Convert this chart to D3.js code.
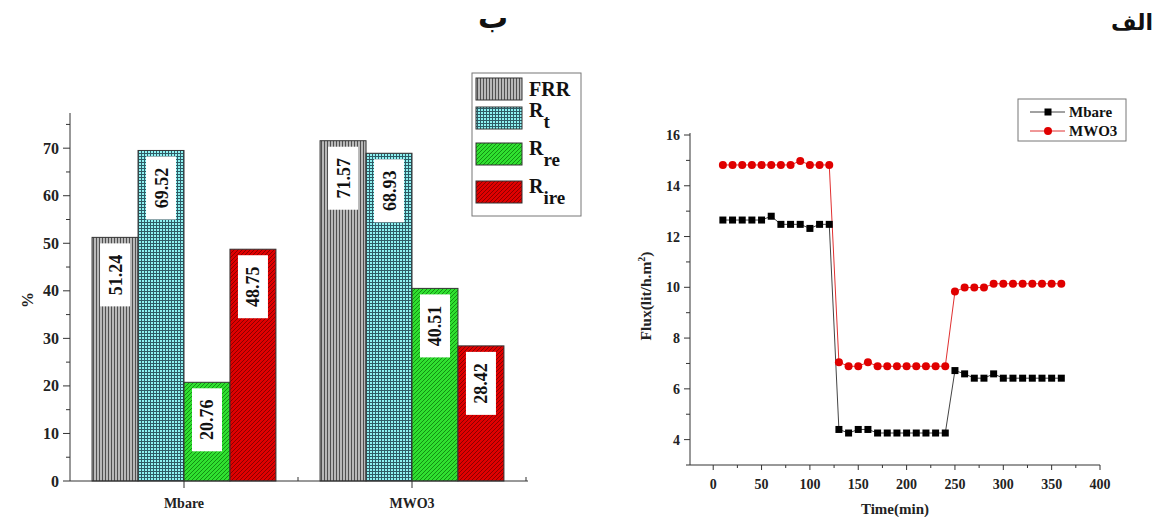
<!DOCTYPE html>
<html><head><meta charset="utf-8">
<script src="https://cdn.jsdelivr.net/npm/d3@7"></script>
<style>
body{margin:0;background:#fff;}
text{font-family:"Liberation Serif","Times New Roman",serif;font-weight:bold;}
</style></head>
<body>
<svg id="c" width="1156" height="517"></svg>
<script>
// ---------- Data: bar chart ----------
const groups = ["Mbare", "MWO3"];
const seriesNames = ["FRR", "Rt", "Rre", "Rire"];
const barMbare = [51.24, 69.52, 20.76, 48.75];
const barMWO3 = [71.57, 68.93, 40.51, 28.42];
const barTicks = [0, 10, 20, 30, 40, 50, 60, 70];

// ---------- Data: flux chart ----------
const timeMin = [10,20,30,40,50,60,70,80,90,100,110,120,130,140,150,160,170,180,190,200,210,220,230,240,250,260,270,280,290,300,310,320,330,340,350,360];
const fluxMbare = [12.65,12.65,12.65,12.65,12.65,12.8,12.48,12.48,12.48,12.32,12.48,12.48,
  4.4,4.26,4.4,4.4,4.26,4.26,4.26,4.26,4.26,4.26,4.26,4.26,
  6.72,6.59,6.42,6.42,6.59,6.42,6.42,6.42,6.42,6.42,6.42,6.42];
const fluxMWO3 = [14.82,14.82,14.82,14.82,14.82,14.82,14.82,14.82,14.98,14.82,14.82,14.82,
  7.05,6.89,6.89,7.05,6.89,6.89,6.89,6.89,6.89,6.89,6.89,6.89,
  9.83,9.99,9.99,9.99,10.14,10.14,10.14,10.14,10.14,10.14,10.14,10.14];
const fluxXTicks = [0,50,100,150,200,250,300,350,400];
const fluxYTicks = [4,6,8,10,12,14,16];

const svg = d3.select("#c");
const defs = svg.append("defs");

// patterns
function pat(id, fill, stroke, kind, size){
  const p = defs.append("pattern").attr("id", id).attr("patternUnits","userSpaceOnUse")
    .attr("width", size).attr("height", size);
  p.append("rect").attr("width", size).attr("height", size).attr("fill", fill);
  if (kind === "v") {
    p.append("line").attr("x1",0.5).attr("x2",0.5).attr("y1",0).attr("y2",size).attr("stroke",stroke).attr("stroke-width",1);
  } else if (kind === "grid") {
    p.append("line").attr("x1",0.5).attr("x2",0.5).attr("y1",0).attr("y2",size).attr("stroke",stroke).attr("stroke-width",1);
    p.append("line").attr("y1",0.5).attr("y2",0.5).attr("x1",0).attr("x2",size).attr("stroke",stroke).attr("stroke-width",1);
  } else {
    p.append("path").attr("d",`M0,${size} L${size},0 M${-size/2},${size/2} L${size/2},${-size/2} M${size/2},${size*1.5} L${size*1.5},${size/2}`).attr("stroke",stroke).attr("stroke-width",1);
  }
}
pat("pFRR", "#b8b8b8", "#505050", "v", 3);
pat("pRt", "#8ef2f2", "#2f5c66", "grid", 3);
pat("pRre", "#30e030", "#129012", "d", 4);
pat("pRire", "#e00000", "#8a0000", "d", 4);
const patIds = ["pFRR","pRt","pRre","pRire"];

// ---------- Bar chart ----------
const by = d3.scaleLinear().domain([0, 77.4]).range([481, 113]);
const bx0 = d3.scaleBand().domain(groups).range([70, 526]).padding(0);
const bx1 = d3.scaleBand().domain(seriesNames).range([0, bx0.bandwidth()]).paddingInner(0).paddingOuter(0.48);
const barData = [barMbare, barMWO3];

const gB = svg.append("g");
groups.forEach((g, gi) => {
  seriesNames.forEach((s, si) => {
    const v = barData[gi][si];
    const x = bx0(g) + bx1(s);
    const w = bx1.bandwidth();
    gB.append("rect").attr("x", x).attr("y", by(v)).attr("width", w).attr("height", by(0) - by(v))
      .attr("fill", `url(#${patIds[si]})`).attr("stroke", "#333").attr("stroke-width", 1);
    const cx = x + w / 2;
    const top = by(v) + 6;
    gB.append("rect").attr("x", cx - 15).attr("y", top).attr("width", 30).attr("height", 63).attr("fill", "#fff");
    gB.append("text").attr("transform", `translate(${cx + 6.5},${top + 31.5}) rotate(-90)`)
      .attr("text-anchor", "middle").attr("font-size", 18).attr("fill", "#111").text(v.toFixed(2));
  });
});

// axes
const yAxisB = svg.append("g").attr("transform", "translate(70,0)");
yAxisB.append("line").attr("x1",0).attr("x2",0).attr("y1",by(77.4)).attr("y2",by(0)).attr("stroke","#333");
d3.range(0, 76, 5).forEach(t => {
  const major = t % 10 === 0;
  yAxisB.append("line").attr("x1", major ? -7 : -4).attr("x2", 0).attr("y1", by(t)).attr("y2", by(t)).attr("stroke", "#333");
});
barTicks.forEach(t => {
  yAxisB.append("text").attr("x", -11).attr("y", by(t) + 5.5).attr("text-anchor", "end").attr("font-size", 16).attr("fill","#222").text(t);
});
svg.append("text").attr("transform", "translate(33,300) rotate(-90)").attr("text-anchor","middle").attr("font-size",16).attr("fill","#222").text("%");

const xAxisB = svg.append("g");
xAxisB.append("line").attr("x1", 70).attr("x2", 528).attr("y1", 481).attr("y2", 481).attr("stroke","#333");
groups.forEach(g => {
  const c = bx0(g) + bx0.bandwidth() / 2;
  xAxisB.append("line").attr("x1", c).attr("x2", c).attr("y1", 481).attr("y2", 488).attr("stroke","#333");
  xAxisB.append("text").attr("x", c).attr("y", 508).attr("text-anchor","middle").attr("font-size",14).attr("fill","#222").text(g);
});
[bx0.range()[0] + bx0.bandwidth(), bx0.range()[1]].forEach(b => {
  xAxisB.append("line").attr("x1", b).attr("x2", b).attr("y1", 481).attr("y2", 477).attr("stroke","#333");
});

// legend (bar)
const lg = svg.append("g");
lg.append("rect").attr("x", 472).attr("y", 73).attr("width", 109).attr("height", 143).attr("fill","#fff").attr("stroke","#777");
const legY = [78, 107, 143, 181];
const legBase = [96, 117, 155, 193];
const legMain = ["FRR", "R", "R", "R"];
const legSub = ["", "t", "re", "ire"];
seriesNames.forEach((s, i) => {
  lg.append("rect").attr("x", 476).attr("y", legY[i]).attr("width", 46).attr("height", 22)
    .attr("fill", `url(#${patIds[i]})`).attr("stroke","#333");
  const t = lg.append("text").attr("x", 529).attr("y", legBase[i]).attr("font-size", 20).attr("fill","#111");
  t.append("tspan").text(legMain[i]);
  if (legSub[i]) t.append("tspan").attr("dy", 11).attr("font-size", 19).text(legSub[i]);
});

// ---------- Flux chart ----------
const fx = d3.scaleLinear().domain([-24, 400]).range([690, 1100]);
const fy = d3.scaleLinear().domain([3, 16]).range([465, 135]);

const ax = svg.append("g");
ax.append("line").attr("x1", 690).attr("x2", 690).attr("y1", fy(16) - 2).attr("y2", fy(3)).attr("stroke","#333");
ax.append("line").attr("x1", 690).attr("x2", fx(400)).attr("y1", fy(3)).attr("y2", fy(3)).attr("stroke","#333");
d3.range(3, 16.01, 1).forEach(t => {
  const major = t % 2 === 0;
  ax.append("line").attr("x1", major ? 684 : 686).attr("x2", 690).attr("y1", fy(t)).attr("y2", fy(t)).attr("stroke","#333");
});
fluxYTicks.forEach(t => {
  ax.append("text").attr("x", 680).attr("y", fy(t) + 5).attr("text-anchor","end").attr("font-size",14).attr("fill","#222").text(t);
});
d3.range(0, 401, 25).forEach(t => {
  const major = t % 50 === 0;
  ax.append("line").attr("x1", fx(t)).attr("x2", fx(t)).attr("y1", fy(3)).attr("y2", fy(3) + (major ? 5 : 3)).attr("stroke","#333");
});
fluxXTicks.forEach(t => {
  ax.append("text").attr("x", fx(t)).attr("y", 489).attr("text-anchor","middle").attr("font-size",14).attr("fill","#222").text(t);
});
svg.append("text").attr("x", 895).attr("y", 514).attr("text-anchor","middle").attr("font-size",15).attr("fill","#222").text("Time(min)");
const yl = svg.append("text").attr("transform","translate(651,296) rotate(-90)").attr("text-anchor","middle").attr("font-size",15.5).attr("fill","#222");
yl.append("tspan").text("Flux(lit/h.m");
yl.append("tspan").attr("dy",-6).attr("font-size",10).text("2");
yl.append("tspan").attr("dy",6).text(")");

const line = d3.line().x((d, i) => fx(timeMin[i])).y(d => fy(d));
svg.append("path").attr("d", line(fluxMbare)).attr("fill","none").attr("stroke","#444").attr("stroke-width",1);
svg.append("path").attr("d", line(fluxMWO3)).attr("fill","none").attr("stroke","#e03030").attr("stroke-width",1);
svg.append("g").selectAll("rect").data(fluxMbare).join("rect")
  .attr("x", (d, i) => fx(timeMin[i]) - 3.5).attr("y", d => fy(d) - 3.5).attr("width", 7).attr("height", 7).attr("fill","#000");
svg.append("g").selectAll("circle").data(fluxMWO3).join("circle")
  .attr("cx", (d, i) => fx(timeMin[i])).attr("cy", d => fy(d)).attr("r", 4).attr("fill","#e00000");

// legend (flux)
const lf = svg.append("g");
lf.append("rect").attr("x", 1018).attr("y", 99).attr("width", 108).attr("height", 42).attr("fill","#fff").attr("stroke","#777");
lf.append("line").attr("x1",1030).attr("x2",1065).attr("y1",112).attr("y2",112).attr("stroke","#444");
lf.append("rect").attr("x",1044.5).attr("y",108.5).attr("width",7).attr("height",7).attr("fill","#000");
lf.append("text").attr("x",1069).attr("y",117).attr("font-size",15).attr("fill","#111").text("Mbare");
lf.append("line").attr("x1",1030).attr("x2",1065).attr("y1",131).attr("y2",131).attr("stroke","#e03030");
lf.append("circle").attr("cx",1048).attr("cy",131).attr("r",4).attr("fill","#e00000");
lf.append("text").attr("x",1069).attr("y",136).attr("font-size",15).attr("fill","#111").text("MWO3");

// panel labels
svg.append("text").attr("x", 493).attr("y", 28).attr("text-anchor","middle").attr("font-size",30).attr("fill","#111").style("font-family","'DejaVu Sans'").text("ب");
svg.append("text").attr("x", 1132).attr("y", 30).attr("text-anchor","middle").attr("font-size",22).attr("fill","#111").style("font-family","'DejaVu Sans'").text("الف");
</script>
</body></html>
